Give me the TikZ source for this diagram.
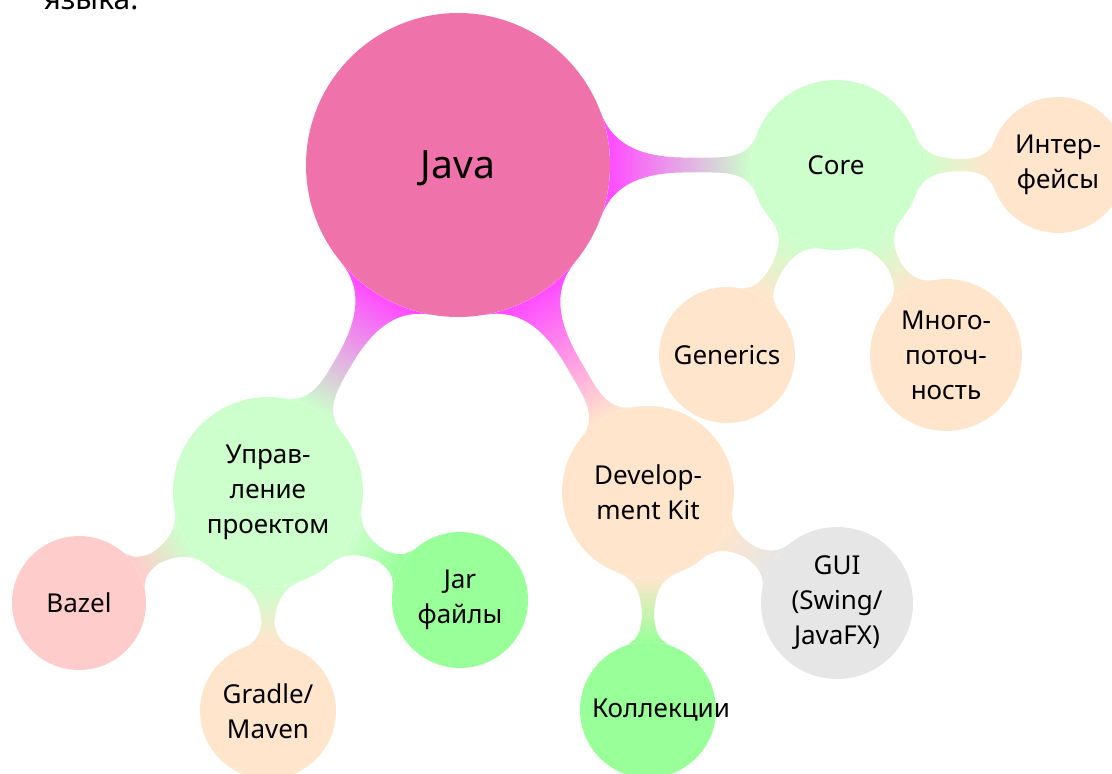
\documentclass[tikz,border=0pt]{standalone}
\usepackage{fontspec}
\setmainfont{Noto Sans}
\usetikzlibrary{mindmap}
\definecolor{javapink}{RGB}{240,114,170}
\definecolor{barmag}{RGB}{255,77,255}
\definecolor{lgreen}{RGB}{204,255,204}
\definecolor{peach}{RGB}{255,229,204}
\definecolor{lred}{RGB}{255,204,204}
\definecolor{mgreen}{RGB}{153,255,153}
\definecolor{lgray}{RGB}{230,230,230}
\begin{document}
\begin{tikzpicture}[x=1pt,y=-1pt,
  bubble/.style={circle, fill=#1, draw=none, inner sep=0pt, align=center,
    font=\fontsize{26}{35}\selectfont},
  rootbar/.style={line width=15pt},
  subbar/.style={line width=12pt}]
\useasboundingbox (0,0) rectangle (1112,774);
\node[anchor=base west, font=\fontsize{30}{36}\selectfont] (tail) at (40,9) {языка.};
% nodes
\node[bubble=javapink, minimum size=304pt, font=\fontsize{39}{46}\selectfont,
  text height=26pt, text depth=0pt] (java) at (458,165) {Java};
\node[bubble=lgreen, minimum size=170pt] (core) at (836,165) {Core};
\node[bubble=peach, minimum size=136pt] (intf) at (1058,165) {Интер-\\фейсы};
\node[bubble=peach, minimum size=136pt] (gen) at (727,355) {Generics};
\node[bubble=peach, minimum size=152pt] (mnogo) at (946,355) {Много-\\поточ-\\ность};
\node[bubble=lgreen, minimum size=190pt] (upr) at (268,492) {Управ-\\ление\\проектом};
\node[bubble=peach, minimum size=172pt] (dev) at (648,492) {Develop-\\ment Kit};
\node[bubble=lred, minimum size=134pt] (bazel) at (79,603) {Bazel};
\node[bubble=peach, minimum size=136pt] (gradle) at (268,711) {Gradle/\\Maven};
\node[bubble=mgreen, minimum size=136pt] (jar) at (460,600) {Jar\\файлы};
\node[bubble=mgreen, minimum size=136pt] (kol) at (648,710) {\makebox[112pt][l]{Коллекции}};
\node[bubble=lgray, minimum size=152pt] (gui) at (837,603) {GUI\\(Swing/\\JavaFX)};
% connection bars
\path[rootbar] (java) to[circle connection bar switch color=from (barmag) to (lgreen)] (core);
\path[rootbar] (java) to[circle connection bar switch color=from (barmag) to (lgreen)] (upr);
\path[rootbar] (java) to[circle connection bar switch color=from (barmag) to (peach)] (dev);
\path[subbar] (core) to[circle connection bar switch color=from (lgreen) to (peach)] (intf);
\path[subbar] (core) to[circle connection bar switch color=from (lgreen) to (peach)] (gen);
\path[subbar] (core) to[circle connection bar switch color=from (lgreen) to (peach)] (mnogo);
\path[subbar] (upr) to[circle connection bar switch color=from (lgreen) to (lred)] (bazel);
\path[subbar] (upr) to[circle connection bar switch color=from (lgreen) to (peach)] (gradle);
\path[subbar] (upr) to[circle connection bar switch color=from (lgreen) to (mgreen)] (jar);
\path[subbar] (dev) to[circle connection bar switch color=from (peach) to (mgreen)] (kol);
\path[subbar] (dev) to[circle connection bar switch color=from (peach) to (lgray)] (gui);
\end{tikzpicture}
\end{document}
